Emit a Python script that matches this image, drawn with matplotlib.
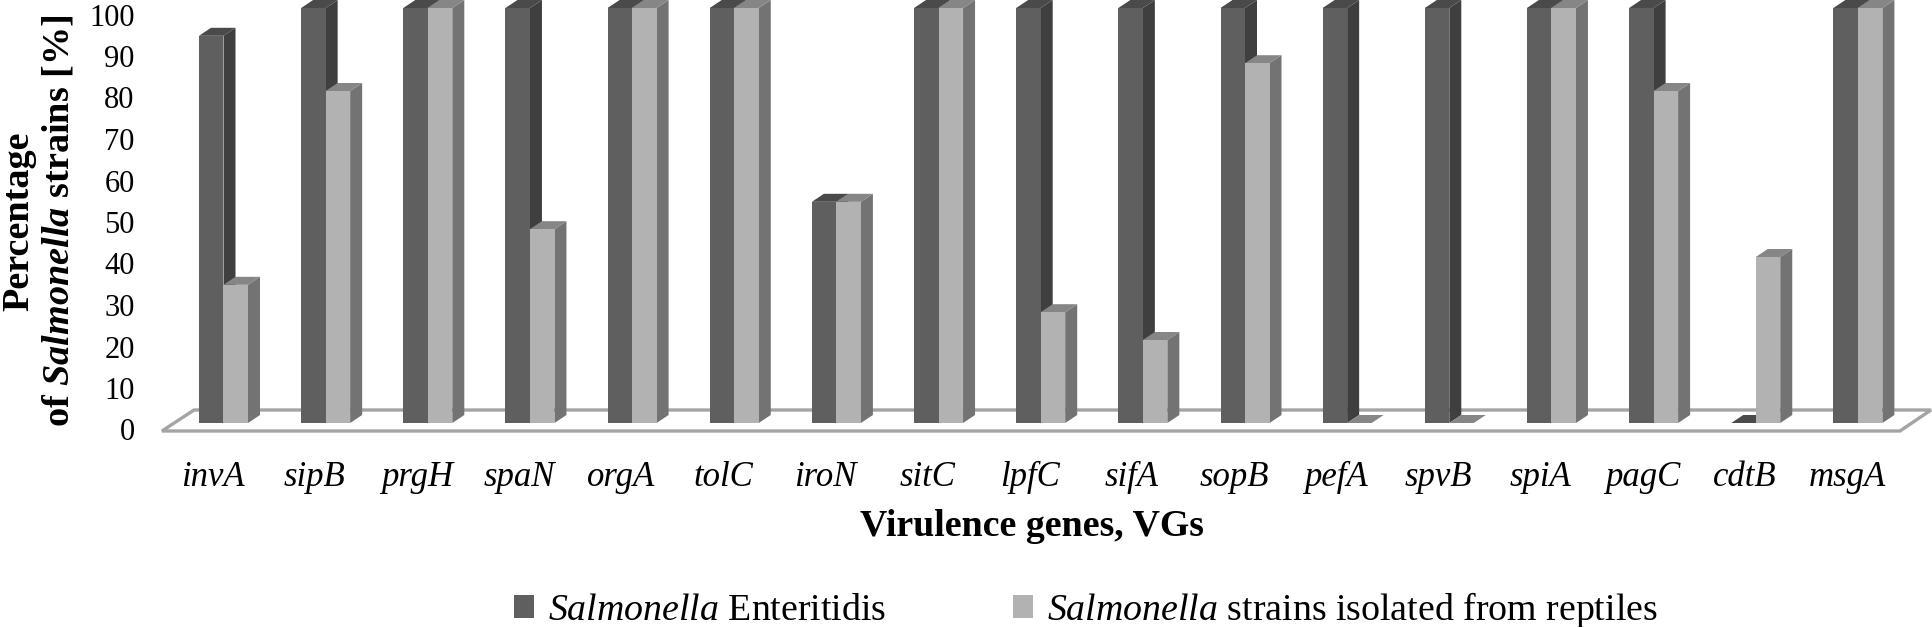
import matplotlib

matplotlib.use("Agg")
import matplotlib.pyplot as plt
from matplotlib.patches import Polygon, Rectangle
from matplotlib.transforms import ScaledTranslation

genes = ["invA", "sipB", "prgH", "spaN", "orgA", "tolC", "iroN", "sitC", "lpfC",
         "sifA", "sopB", "pefA", "spvB", "spiA", "pagC", "cdtB", "msgA"]
enteritidis = [93.3, 100, 100, 100, 100, 100, 53.3, 100, 100, 100, 100, 100, 100, 100, 100, 0, 100]
reptiles = [33.3, 80, 100, 46.7, 100, 100, 53.3, 100, 26.7, 20, 86.7, 0, 0, 100, 80, 40, 100]
yticks = list(range(0, 101, 10))

plt.rcParams["font.family"] = "Liberation Serif"
plt.rcParams["mathtext.fontset"] = "custom"
plt.rcParams["mathtext.rm"] = "Liberation Serif"
plt.rcParams["mathtext.it"] = "Liberation Serif:italic"
plt.rcParams["mathtext.bf"] = "Liberation Serif:bold"
plt.rcParams["mathtext.bfit"] = "Liberation Serif:italic:bold"

W, H = 1933, 627
fig = plt.figure(figsize=(W / 100, H / 100), dpi=100)

# axes run from the y=0 bar base up to the top edge of the image
left_px, base_px = 136, 423
ax = fig.add_axes([left_px / W, (H - base_px) / H, (W - left_px) / W, base_px / H])
px_per_group, px_per_unit = 102.15, 4.15
x0 = -(223.5 - left_px) / px_per_group
ax.set_xlim(x0, x0 + (W - left_px) / px_per_group)
ax.set_ylim(0, base_px / px_per_unit)

bar_w = 24.5 / px_per_group
dx = 12 / px_per_group
dy = 8 / px_per_unit


def px_x(p):
    return (p - 223.5) / px_per_group


def px_y(p):
    return (base_px - p) / px_per_unit


floor = [(px_x(162), px_y(431)), (px_x(194), px_y(410)), (px_x(1931), px_y(410)), (px_x(1900), px_y(431))]
ax.add_patch(Polygon(floor, closed=True, fc="white", ec="#a4a4a4", lw=2.4, clip_on=False, zorder=1))


def draw_bars(offset, values, front, side, top, z):
    for i, v in enumerate(values):
        x = i + offset
        ax.add_patch(Polygon([(x + bar_w, 0), (x + bar_w + dx, dy), (x + bar_w + dx, v + dy), (x + bar_w, v)],
                             closed=True, fc=side, ec="none", zorder=z))
        ax.add_patch(Polygon([(x, v), (x + dx, v + dy), (x + bar_w + dx, v + dy), (x + bar_w, v)],
                             closed=True, fc=top, ec="none", zorder=z))
    ax.bar([i + offset for i in range(len(values))], values, width=bar_w, align="edge",
           color=front, linewidth=0, zorder=z + 0.1)


draw_bars(-bar_w, enteritidis, "#5f5f5f", "#3f3f3f", "#4a4a4a", 2)
draw_bars(0, reptiles, "#b2b2b2", "#737373", "#868686", 3)

for side in ax.spines.values():
    side.set_visible(False)
ax.patch.set_visible(False)

ax.set_yticks(yticks)
ax.set_yticklabels([str(t) for t in yticks], fontsize=22)
ax.tick_params(axis="y", length=0, pad=1)
shift = ScaledTranslation(0, -6.5 / 100, fig.dpi_scale_trans)
for lab in ax.get_yticklabels():
    lab.set_transform(lab.get_transform() + shift)

ax.set_xticks(range(len(genes)))
ax.set_xticklabels(genes, fontsize=25, style="italic")
ax.tick_params(axis="x", length=0, pad=27)
# gene names sit a little left of their bar pairs
shift = ScaledTranslation(-11 / 100, 0, fig.dpi_scale_trans)
for lab in ax.get_xticklabels():
    lab.set_transform(lab.get_transform() + shift)

fig.text(1032 / W, 1 - 526 / H, "Virulence genes, VGs", fontsize=27.3, fontweight="bold", ha="center", va="center")
fig.text(39 / W, 1 - 221 / H, "Percentage\nof $\\mathbfit{Salmonella}$ strains [%]", fontsize=27.5,
         fontweight="bold", rotation=90, ha="center", va="center", linespacing=1.22, multialignment="center")

handles = [Rectangle((0, 0), 1, 1, fc="#5f5f5f"), Rectangle((0, 0), 1, 1, fc="#b2b2b2")]
labels = ["$\\mathit{Salmonella}$ Enteritidis", "$\\mathit{Salmonella}$ strains isolated from reptiles"]
fig.legend(handles, labels, loc="center", bbox_to_anchor=(1086 / W, 1 - 610 / H), ncol=2, frameon=False,
           fontsize=27.3, handlelength=0.53, handleheight=0.53, handletextpad=0.37, columnspacing=3.35,
           borderpad=0, borderaxespad=0)

fig.savefig("out.png", dpi=100)
plt.close(fig)
